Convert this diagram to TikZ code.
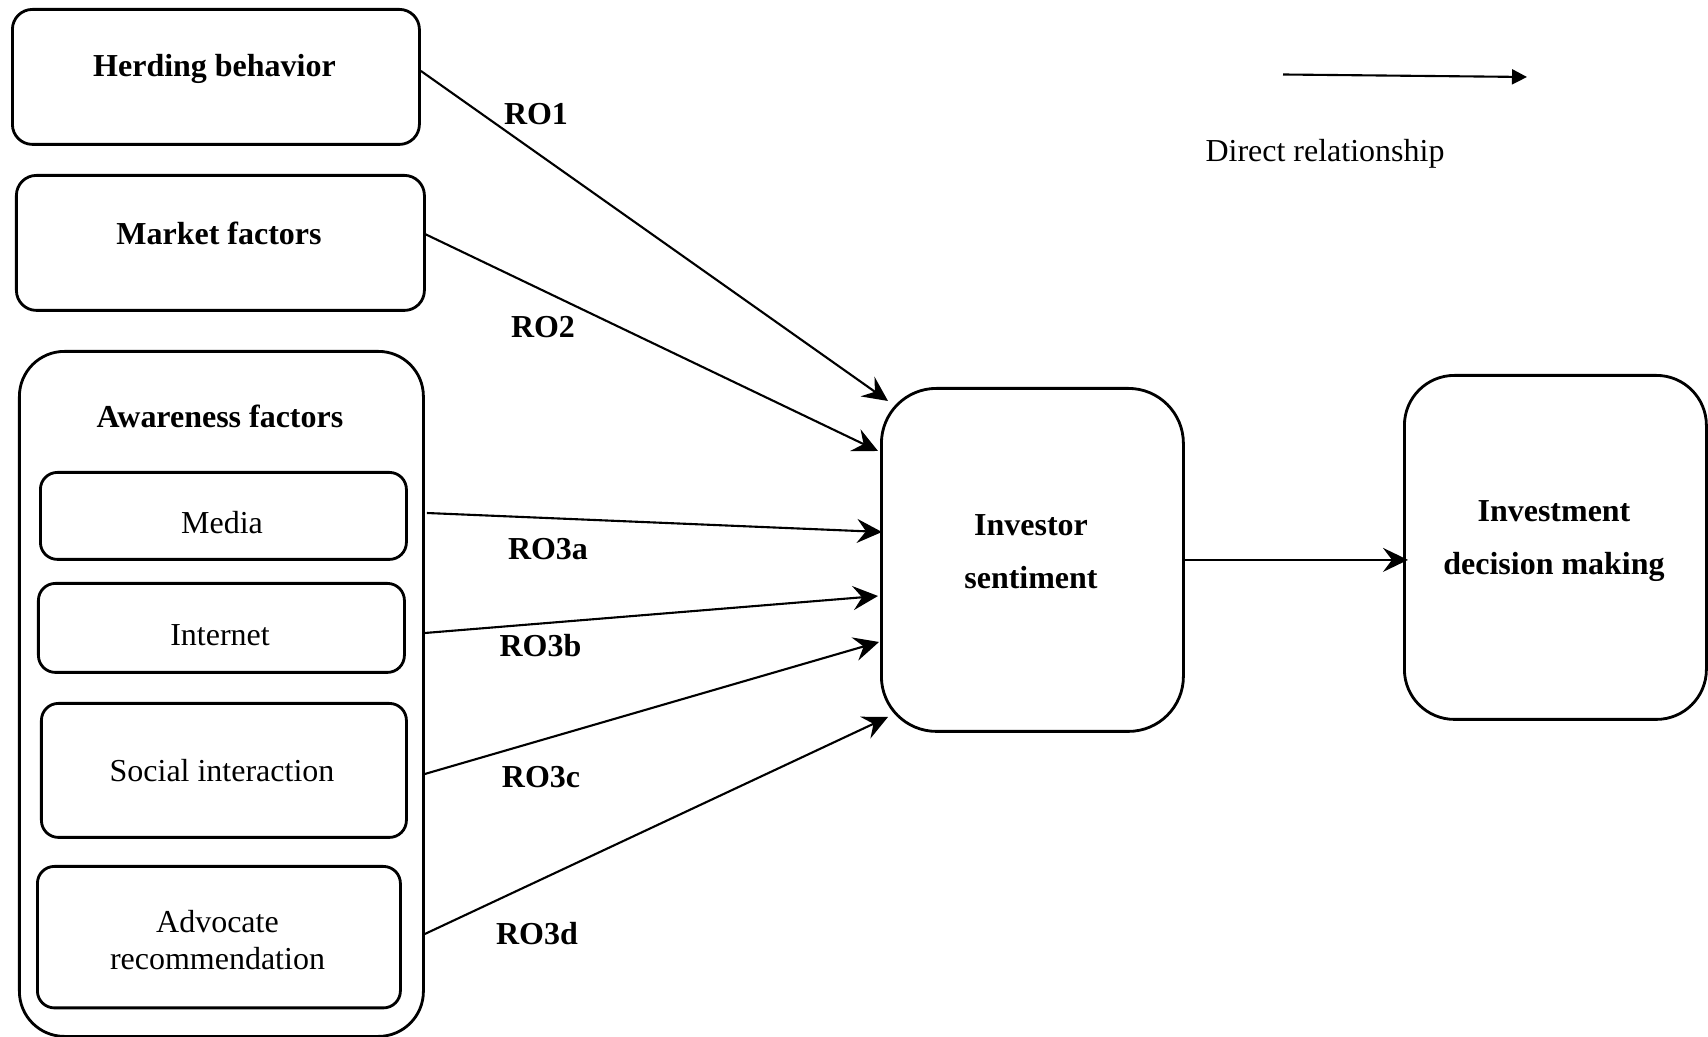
\documentclass[tikz,border=0pt]{standalone}
\usepackage{fontspec}
\setmainfont{Liberation Serif}
\usepackage{tikz}
\usetikzlibrary{calc,arrows.meta}
\tikzstyle{boite} = [rectangle, draw=black, line width=0.8pt, rounded corners=0.2cm, anchor=north west, inner sep=0pt]
\tikzstyle{titre} = [font=\fontsize{9.1}{15}\selectfont\bfseries, align=center, inner sep=0pt]
\tikzstyle{texte} = [font=\fontsize{9.1}{10.5}\selectfont, align=center, inner sep=0pt]
\tikzstyle{fleche} = [line width=0.6pt, -{Stealth[length=2.5mm, width=2.4mm, inset=0.9mm]}]

\begin{document}
\begin{tikzpicture}

        \useasboundingbox (0,0) rectangle (17.08,-10.37);

        \node (HB) [boite, minimum width=4.07cm, minimum height=1.35cm] at (0.11,-0.08) {};
        \node (HBt) [titre] at (2.145,-0.69) {Herding behavior};

        \node (MF) [boite, minimum width=4.08cm, minimum height=1.35cm] at (0.15,-1.74) {};
        \node (MFt) [titre] at (2.19,-2.335) {Market factors};

        \node (AF) [boite, rounded corners=0.45cm, minimum width=4.04cm, minimum height=6.85cm] at (0.18,-3.50) {};
        \node (AFt) [titre] at (2.20,-4.16) {Awareness factors};

        \node (ME) [boite, rounded corners=0.17cm, minimum width=3.66cm, minimum height=0.87cm] at (0.39,-4.71) {};
        \node (MEt) [texte] at (2.22,-5.225) {Media};

        \node (IN) [boite, rounded corners=0.17cm, minimum width=3.66cm, minimum height=0.89cm] at (0.37,-5.82) {};
        \node (INt) [texte] at (2.20,-6.35) {Internet};

        \node (SI) [boite, rounded corners=0.17cm, minimum width=3.65cm, minimum height=1.34cm] at (0.40,-7.02) {};
        \node (SIt) [texte] at (2.22,-7.71) {Social interaction};

        \node (AR) [boite, rounded corners=0.17cm, minimum width=3.63cm, minimum height=1.415cm] at (0.36,-8.65) {};
        \node (ARt) [texte] at (2.175,-9.40) {Advocate\\recommendation};

        \node (IS) [boite, rounded corners=0.55cm, minimum width=3.02cm, minimum height=3.43cm] at (8.80,-3.87) {};
        \node (ISt) [titre] at (10.31,-5.52) {Investor\\sentiment};

        \node (ID) [boite, rounded corners=0.5cm, minimum width=3.02cm, minimum height=3.44cm] at (14.03,-3.74) {};
        \node (IDt) [titre] at (15.54,-5.41) {Investment\\decision making};

        \draw [fleche] ($(HB.east)+(0,0.06)$) -- ($(IS.north west)+(0.08,-0.14)$);
        \draw [fleche] ($(MF.east)+(0,0.085)$) -- ($(IS.north west)+(-0.02,-0.64)$);
        \draw [fleche] ($(AF.north east)+(0.02,-1.63)$) -- ($(IS.north west)+(0.02,-1.45)$);
        \draw [fleche] ($(AF.north east)+(0,-2.83)$) -- ($(IS.north west)+(-0.02,-2.09)$);
        \draw [fleche] ($(AF.north east)+(0,-4.24)$) -- ($(IS.north west)+(-0.01,-2.55)$);
        \draw [fleche] ($(AF.north east)+(0,-5.84)$) -- ($(IS.north west)+(0.08,-3.30)$);
        \draw [fleche] (IS.east) -- ($(IS.east -| ID.west)+(0.05,0)$);

        \node (R1) [titre] at (5.36,-1.14) {RO1};
        \node (R2) [titre] at (5.43,-3.27) {RO2};
        \node (R3a) [titre] at (5.48,-5.49) {RO3a};
        \node (R3b) [titre] at (5.405,-6.46) {RO3b};
        \node (R3c) [titre] at (5.41,-7.775) {RO3c};
        \node (R3d) [titre] at (5.37,-9.34) {RO3d};

        \coordinate (L1) at (12.83,-0.745);
        \coordinate (L2) at (15.27,-0.77);
        \draw [line width=0.6pt, -{Triangle[length=1.5mm, width=1.5mm]}] (L1) -- (L2);
        \node (Lt) [texte] at (13.25,-1.535) {Direct relationship};

    \end{tikzpicture}
\end{document}
